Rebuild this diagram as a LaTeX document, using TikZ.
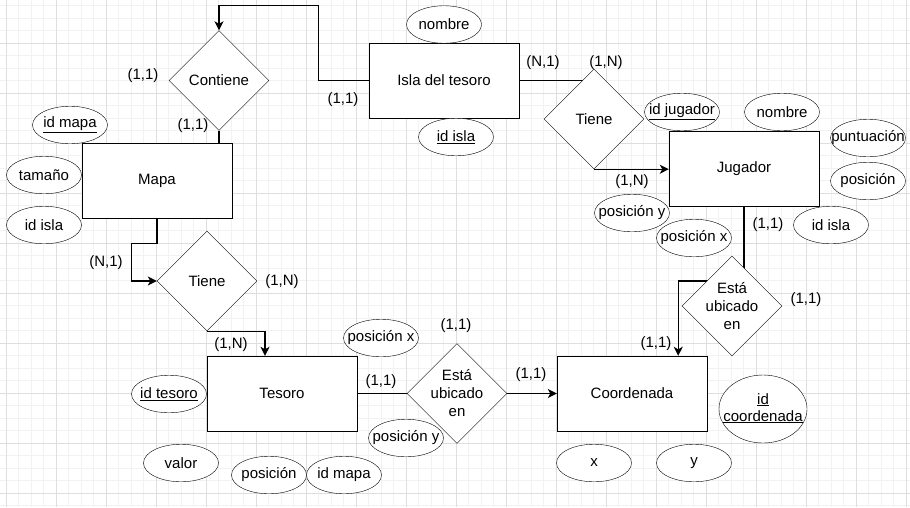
\documentclass[tikz,border=0pt]{standalone}
\usepackage{fontspec}
\setmainfont{Liberation Sans}
\usetikzlibrary{shapes.geometric,arrows.meta}
\pgfdeclarelayer{grid}
\pgfdeclarelayer{links}
\pgfsetlayers{grid,links,main}
\newcommand{\attname}[1]{\makebox[0pt]{#1}}

\tikzset{
  entity/.style={draw, fill=white, minimum width=150pt, minimum height=75pt, inner sep=0pt},
  relation/.style={diamond, draw, fill=white, minimum width=100pt, minimum height=100pt, inner sep=0pt, align=center},
  attrib/.style={ellipse, draw, fill=white, minimum width=75pt, minimum height=37.5pt, inner sep=0pt},
  card/.style={inner sep=0pt},
  link/.style={line width=1.2pt},
  arrowlink/.style={link, -{Stealth[length=9pt, width=9pt, inset=2.5pt]}},
  gridminor/.style={line width=1pt, color=black!5},
  gridmajor/.style={line width=1pt, color=black!13},
}

\begin{document}
\begin{tikzpicture}[x=1pt, y=-1pt, line width=1.2pt, font=\fontsize{15}{18}\selectfont]
\useasboundingbox (0,0) rectangle (910,507);

% Grid
\begin{pgfonlayer}{grid}
\fill[white] (0,0) rectangle (910,507);
\foreach \i in {0,...,72} \draw[gridminor] ({6.25+12.5*\i},0) -- ++(0,507);
\foreach \j in {1,...,41} \draw[gridminor] (0,{-6.67+12.5*\j}) -- ++(910,0);
\foreach \i in {0,...,18} \draw[gridmajor] ({6.25+50*\i},0) -- ++(0,507);
\foreach \j in {1,...,10} \draw[gridmajor] (0,{-6.67+50*\j}) -- ++(910,0);
\end{pgfonlayer}

% Entities
\node[entity] (isla) at (444,80.5) {Isla del tesoro};
\node[entity] (mapa) at (157,180.5) {Mapa};
\node[entity] (jugador) at (744,168.5) {Jugador};
\node[entity] (tesoro) at (282,393.5) {Tesoro};
\node[entity] (coord) at (632,393.5) {Coordenada};

% Relations
\node[relation] (contiene) at (219,80.5) {Contiene};
\node[relation] (tieneJ) at (594,119) {Tiene};
\node[relation] (tieneT) at (207,281) {Tiene};
\node[relation] (ubicT) at (457,393.5) {Está\\ubicado\\en};
\node[relation] (ubicJ) at (732,306) {Está\\ubicado\\en};

% Attributes
\node[attrib] (islaNombre) at (444,24.5) {\attname{nombre}};
\node[attrib] (islaId) at (456,137) {\attname{\underline{id isla}}};
\node[attrib] (mapaId) at (70,125) {\attname{\underline{id mapa}}};
\node[attrib] (mapaTam) at (44,175) {\attname{tamaño}};
\node[attrib] (mapaIsla) at (44,225) {\attname{id isla}};
\node[attrib] (jugId) at (682,112) {\attname{\underline{id jugador}}};
\node[attrib] (jugNombre) at (782,112) {\attname{nombre}};
\node[attrib] (jugPunt) at (868,138) {\attname{puntuación}};
\node[attrib] (jugPos) at (868,181) {\attname{posición}};
\node[attrib] (jugIsla) at (831,225) {\attname{id isla}};
\node[attrib] (jugPosY) at (632,213) {\attname{posición y}};
\node[attrib] (jugPosX) at (694,238) {\attname{posición x}};
\node[attrib] (tesId) at (169,394) {\attname{\underline{id tesoro}}};
\node[attrib] (tesValor) at (181,463) {\attname{valor}};
\node[attrib] (tesPos) at (269,475) {\attname{posición}};
\node[attrib] (tesMapa) at (344,475) {\attname{id mapa}};
\node[attrib] (tesPosX) at (381,338) {\attname{posición x}};
\node[attrib] (tesPosY) at (406,438) {\attname{posición y}};
\node[attrib, minimum width=88pt, minimum height=68pt] (coordId) at (763,409)
  {\attname{\begin{tabular}{@{}c@{}}\underline{id}\\[-1pt]\underline{coordenada}\end{tabular}}};
\node[attrib] (coordX) at (594,463) {\attname{x}};
\node[attrib] (coordY) at (694,463) {\attname{y}};

% Cardinalities
\node[card] (cContM) at (143,76) {(1,1)};
\node[card] (cMapaC) at (193,126) {(1,1)};
\node[card] (cIslaC) at (343,100) {(1,1)};
\node[card] (cIslaT) at (543,63) {(N,1)};
\node[card] (cTieneI) at (606,63) {(1,N)};
\node[card] (cJugT) at (632,182) {(1,N)};
\node[card] (cJugU) at (768,225) {(1,1)};
\node[card] (cUbicJ) at (806,300) {(1,1)};
\node[card] (cCoordJ) at (656,344) {(1,1)};
\node[card] (cCoordT) at (531,375) {(1,1)};
\node[card] (cUbicT) at (456,326) {(1,1)};
\node[card] (cTesU) at (381,382) {(1,1)};
\node[card] (cTesT) at (231,345) {(1,N)};
\node[card] (cTieneT) at (282,282) {(1,N)};
\node[card] (cMapaT) at (106,263) {(N,1)};

% Connectors
\begin{pgfonlayer}{links}
\draw[arrowlink] (isla.west) -- ++(-50,0) |- ([yshift=25pt]contiene.north) -- (contiene.north);
\draw[link] (contiene.south) -- (contiene.south |- mapa.north);
\draw[link] (isla.east) -- (isla.east -| tieneJ.center);
\draw[arrowlink] (tieneJ.south) -- (tieneJ.south -| jugador.west);
\draw[link] (jugador.south) -- (jugador.south |- ubicJ.center);
\draw[arrowlink] ([yshift=25pt]ubicJ.center) -| ([xshift=-29pt]coord.north east);
\draw[arrowlink] (mapa.south) -- ++(0,25) -| ([xshift=-25pt]tieneT.west) -- (tieneT.west);
\draw[arrowlink] (tieneT.south) -| ([xshift=-17pt]tesoro.north);
\draw[link] (tesoro.east) -- (ubicT.west);
\draw[arrowlink] (ubicT.east) -- (coord.west);
\end{pgfonlayer}
\end{tikzpicture}
\end{document}
